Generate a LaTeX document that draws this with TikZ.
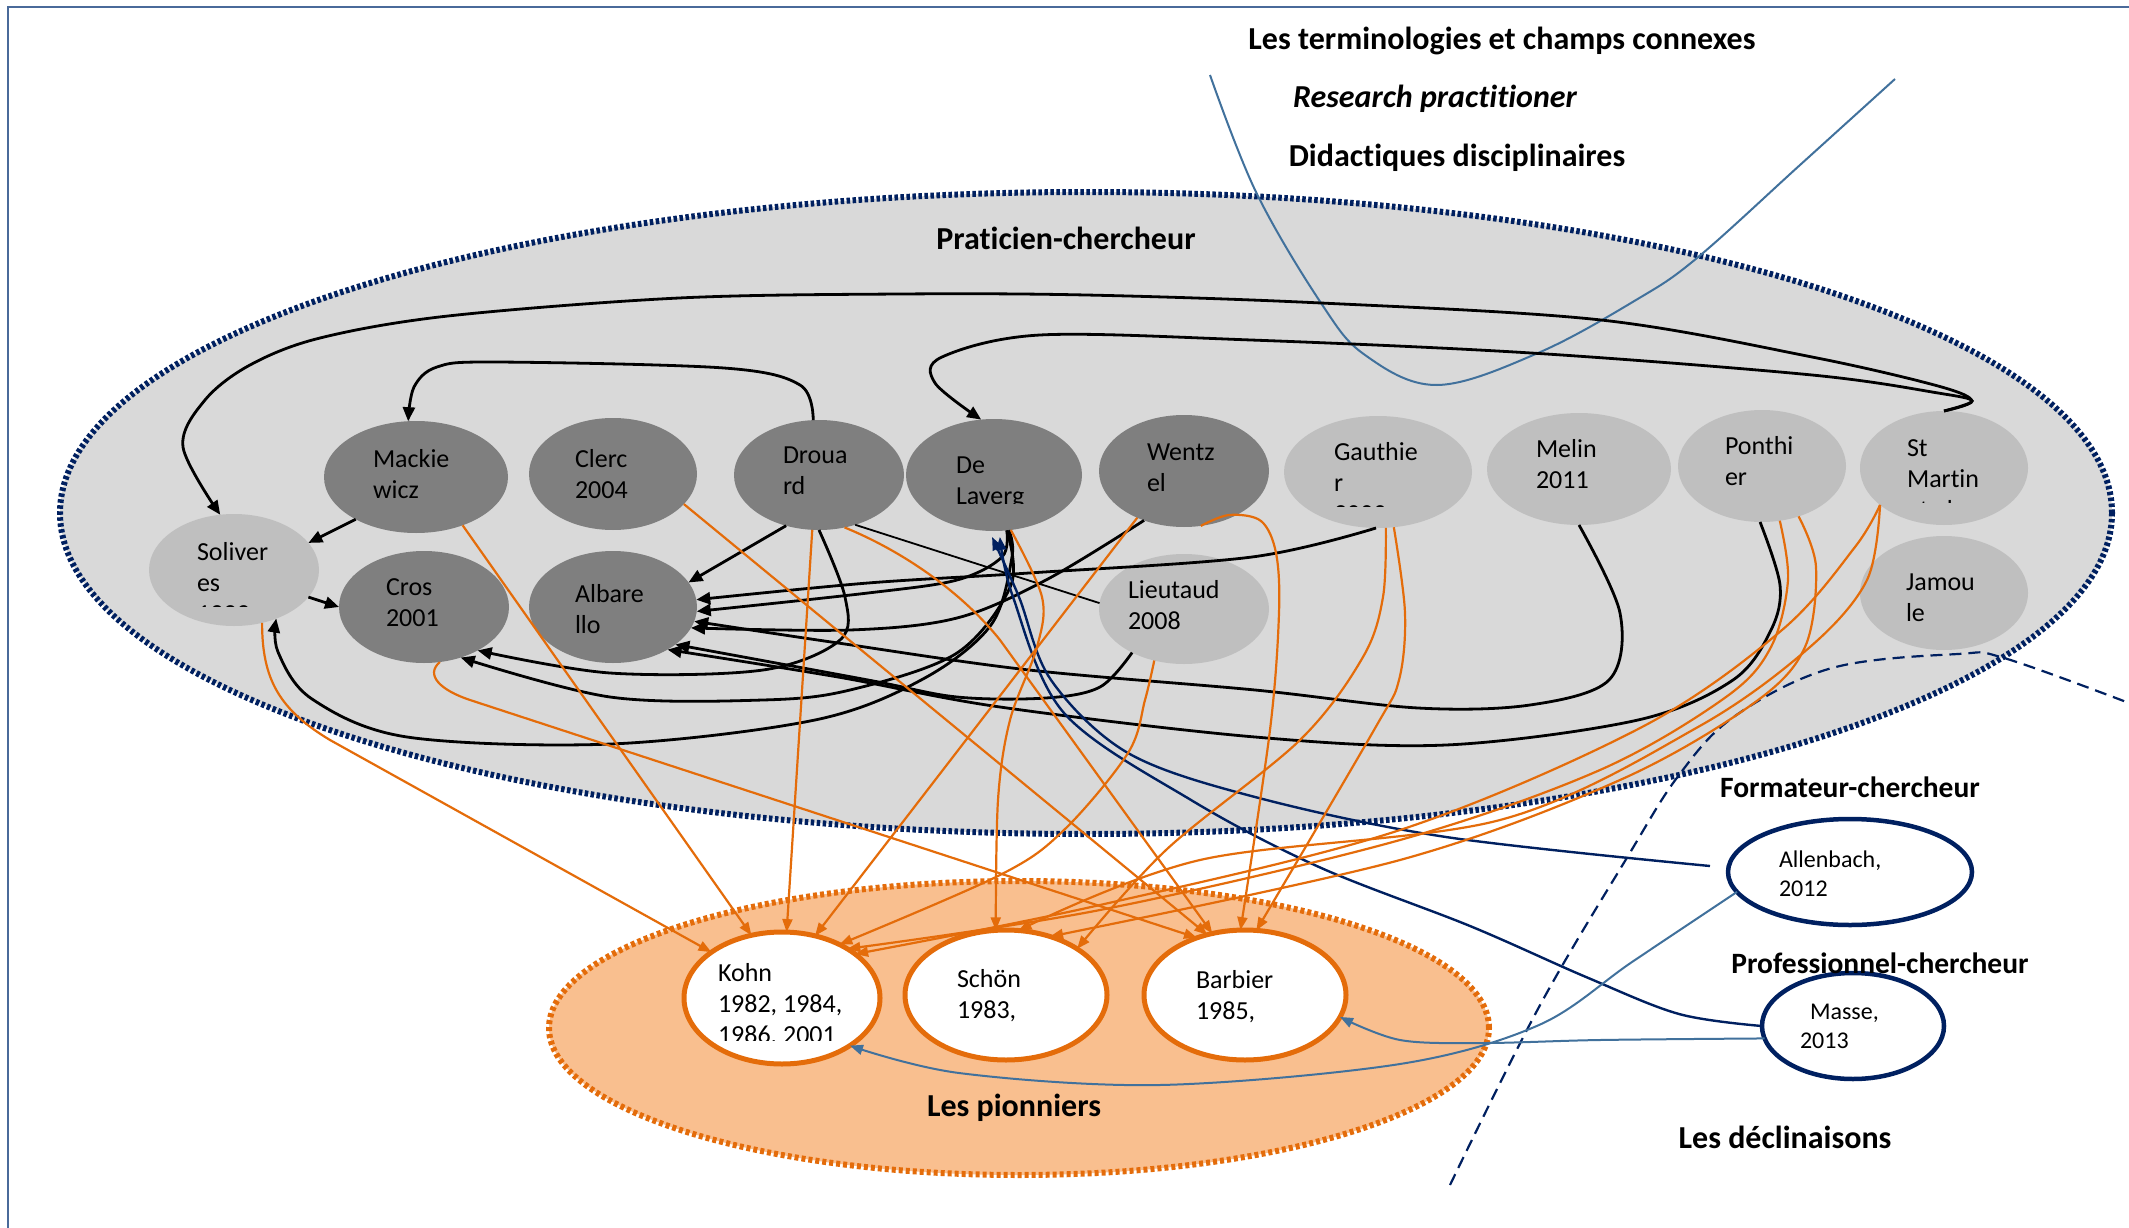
\documentclass[tikz,border=0pt]{standalone}
\usepackage{fontspec}
\setmainfont{Carlito}[Ligatures={NoCommon}]
\usetikzlibrary{shapes.geometric,arrows.meta,calc}
\definecolor{grayfill}{HTML}{D9D9D9}
\definecolor{darknode}{HTML}{7F7F7F}
\definecolor{lightnode}{HTML}{BFBFBF}
\definecolor{navy}{HTML}{002060}
\definecolor{steel}{HTML}{41719C}
\definecolor{orng}{HTML}{E46C0A}
\definecolor{peach}{HTML}{F9BF8F}
\definecolor{framecol}{HTML}{4A6A9A}
\newcommand\twol[2]{\vtop{\hbox{#1}\hbox{#2}}}
\newcommand\threel[3]{\vtop{\hbox{#1}\hbox{#2}\hbox{#3}}}
\begin{document}
\begin{tikzpicture}[x=1pt,y=-1pt,
  every node/.style={inner sep=0pt,outer sep=0pt},
  el/.style 2 args={ellipse,minimum width=#1,minimum height=#2},
  dk/.style={fill=darknode},
  lt/.style={fill=lightnode},
  pio/.style={fill=white,draw=orng,line width=5pt},
  nv/.style={fill=white,draw=navy,line width=4.5pt},
  lbl/.style={anchor=base west,font=\fontsize{26}{31}\selectfont},
  slbl/.style={anchor=base west,font=\fontsize{24}{29}\selectfont},
  ttl/.style={font=\bfseries\fontsize{32}{38}\selectfont},
  ttlb/.style={font=\bfseries\fontsize{29.5}{35}\selectfont},
  blk/.style={black,line width=2.8pt,-{Triangle[length=14pt,width=12pt]}},
  org/.style={orng,line width=2.2pt,-{Triangle[length=13pt,width=10pt]}},
  nvy/.style={navy,line width=2.4pt,-{Triangle[length=13pt,width=10pt]}},
  stl/.style={steel,line width=2pt,-{Triangle[length=13pt,width=10pt]}},
  sm/.style={smooth,tension=0.55}]
\useasboundingbox (0,0) rectangle (2129,1228);
\fill[white] (0,0) rectangle (2129,1228);
% frame
\draw[framecol,line width=2.5pt] (8,1228) -- (8,7) -- (2129,7);
% big ellipses
\node[el={2052}{642},fill=grayfill,draw=navy,line width=6pt,dash pattern=on 3.5pt off 2.5pt] (prat) at (1086,513) {};
\node[el={940}{294},fill=peach,draw=orng,line width=6pt,dash pattern=on 4pt off 3pt] (pion) at (1019,1028) {};
% terminology curve
\draw[steel,line width=2pt] plot[smooth,tension=0.6] coordinates {(1210,75) (1256,192) (1321,303) (1365,355) (1437,385) (1538,353) (1636,300) (1697,258) (1800,165) (1895,79)};
% declinaisons dashed line
\draw[navy,line width=2.2pt,dash pattern=on 12pt off 7pt] plot[smooth,tension=0.6] coordinates {(1450,1185) (1539,1007) (1628,856) (1679,775) (1735,716) (1832,668) (1958,654) (2004,658) (2129,703)};
% nodes
\node[el={170}{112},lt] (sol) at (234,570) {};
\node[el={184}{112},dk] (mac) at (416,477) {};
\node[el={168}{112},dk] (cle) at (613,474) {};
\node[el={170}{110},dk] (dro) at (819,475) {};
\node[el={176}{112},dk] (del) at (994,475) {};
\node[el={170}{112},dk] (wen) at (1184,471) {};
\node[el={188}{112},lt] (gau) at (1378,472) {};
\node[el={184}{112},lt] (mel) at (1579,469) {};
\node[el={168}{112},lt] (pon) at (1762,466) {};
\node[el={168}{114},lt] (stm) at (1944,468) {};
\node[el={168}{114},lt] (jam) at (1944,593) {};
\node[el={170}{112},dk] (cro) at (424,607) {};
\node[el={168}{112},dk] (alb) at (613,607) {};
\node[el={170}{110},lt] (lie) at (1184,609) {};
\node[el={196}{132},pio] (kohn) at (782,998) {};
\node[el={202}{130},pio] (schon) at (1006,995) {};
\node[el={202}{130},pio] (barb) at (1245,995) {};
\node[el={244}{106},nv] (allen) at (1850,872) {};
\node[el={182}{106},nv] (masse) at (1853,1026) {};
% node texts
\begin{scope}\clip (150,520) rectangle (320,606.5);
\node[lbl] (solT) at (197,560) {\threel{Soliver}{es}{1999}};\end{scope}
\node[lbl] (macT) at (373,467) {\twol{Mackie}{wicz}};
\node[lbl] (cleT) at (575,467) {\twol{Clerc}{2004}};
\node[lbl] (droT) at (783,463) {\twol{Droua}{rd}};
\begin{scope}\clip (907,420) rectangle (1082,503);
\node[lbl] (delT) at (956,473) {\twol{De}{Laverg}};\end{scope}
\node[lbl] (wenT) at (1147,460) {\twol{Wentz}{el}};
\begin{scope}\clip (1284,420) rectangle (1472,506.5);
\node[lbl] (gauT) at (1334,460) {\threel{Gauthie}{r}{2000}};\end{scope}
\node[lbl] (melT) at (1536,457) {\twol{Melin}{2011}};
\node[lbl] (ponT) at (1725,454) {\twol{Ponthi}{er}};
\begin{scope}\clip (1860,415) rectangle (2028,502);
\node[lbl] (stmT) at (1907,456) {\threel{St}{Martin}{et al.}};\end{scope}
\node[lbl] (jamT) at (1906,590) {\twol{Jamou}{le}};
\node[lbl] (croT) at (386,595) {\twol{Cros}{2001}};
\node[lbl] (albT) at (575,602) {\twol{Albare}{llo}};
\node[lbl] (lieT) at (1128,598) {\twol{Lieutaud}{2008}};
\begin{scope}\clip (690,940) rectangle (880,1040);
\node[lbl] (kohnT) at (718,981) {\threel{Kohn}{1982, 1984,}{1986, 2001}};\end{scope}
\node[lbl] (schonT) at (957,987) {\twol{Schön}{1983,}};
\node[lbl] (barbT) at (1196,988) {\twol{Barbier}{1985,}};
\node[slbl] (allenT) at (1779,867) {\twol{Allenbach,}{2012}};
\node[slbl] (masseT) at (1800,1019) {\twol{\hspace{10pt}Masse,}{2013}};
% titles
\node[ttl] (t1) at (1502,41) {Les terminologies et champs connexes};
\node[ttl,font=\bfseries\itshape\fontsize{32}{38}\selectfont] (t2) at (1435,99) {Research practitioner};
\node[ttl] (t3) at (1457,158) {Didactiques disciplinaires};
\node[ttl] (t4) at (1066,238) {Praticien-chercheur};
\node[ttl] (t5) at (1014,1108) {Les pionniers};
\node[ttlb] (t6) at (1850,787) {Formateur-chercheur};
\node[ttlb] (t7) at (1880,963) {Professionnel-chercheur};
\node[ttl] (t8) at (1785,1137) {Les déclinaisons};
% black connectors
\draw[blk] plot[sm] coordinates {(stm.north) (1972,401) (1938,386) (1812,357) (1601,320) (1321,303) (1086,295) (900,294) (679,298) (448,316) (320,338) (250,365) (205,400) (183,447) (sol.104)};
\draw[blk] plot[sm] coordinates {(stm.north) (1972,401) (1938,393) (1812,375) (1531,353) (1251,340) (1040,335) (942,357) (935,383) (del.103)};
\draw[blk] plot[sm] coordinates {(dro.96) (800,385) (724,368) (494,362) (437,367) (414,387) (mac.98)};
\draw[blk] (mac.215) -- (sol.20);
\draw[blk] (sol.-20) -- (cro.180);
\draw[blk] (dro.237) -- (alb.18);
\draw[blk] plot[sm] coordinates {(gau.268) (1252,557) (1029,573) (868,583) (alb.5)};
\draw[blk] plot[sm] coordinates {(del.283) (1002,557) (957,580) (868,593) (alb.-3)};
\draw[blk] plot[sm] coordinates {(wen.231) (1046,580) (957,618) (850,630) (alb.-15)};
\draw[blk] plot[sm] coordinates {(mel.south) (1620,613) (1609,680) (1530,705) (1418,708) (1255,690) (1029,670) (838,643) (alb.-10)};
\draw[blk] plot[sm] coordinates {(lie.220) (1100,687) (1046,698) (957,697) (868,680) (alb.-31)};
\draw[blk] plot[sm] coordinates {(pon.268) (1780,585) (1771,630) (1733,680) (1638,720) (1446,745) (1255,737) (1000,707) (838,677) (alb.-38)};
\draw[blk] plot[sm] coordinates {(dro.south) (845,597) (840,640) (763,670) (610,673) (cro.-39)};
\draw[blk] plot[sm] coordinates {(del.283) (1011,585) (957,653) (850,690) (763,700) (610,697) (cro.-54)};
\draw[blk] plot[sm] coordinates {(del.285) (1012,557) (991,625) (923,679) (815,720) (611,744) (407,737) (312,699) (278,652) (sol.-49)};
\draw[black,line width=1.8pt] (dro.-54) -- (lie.176);
% navy connectors
\draw[nvy] plot[sm] coordinates {([xshift=-18pt,yshift=6pt]allen.west) (1446,837) (1255,797) (1128,753) (1051,680) (1019,597) ([yshift=-6pt]del.268)};
\draw[nvy] plot[sm] coordinates {(masse.west) (1679,1014) (1586,977) (1470,926) (1319,867) (1191,800) (1064,713) (1013,597) ([yshift=-6pt]del.276)};
\draw[stl] plot[sm] coordinates {(masse.188) (1600,1040) (1484,1043) (1400,1040) (barb.-13)};
\draw[stl] plot[sm] coordinates {(allen.190) (1632,962) (1539,1025) (1400,1064) (1160,1085) (959,1073) (kohn.-35)};
% orange connectors
\draw[org] (sol.298) .. controls (262,680) and (280,710) .. (330,740) -- (kohn.147);
\draw[org] (mac.-46) -- (kohn.116);
\draw[org] (cle.-23) -- (barb.122);
\draw[org] (cro.-74) .. controls (425,675) and (440,690) .. (470,700) -- (barb.130);
\draw[org] (dro.263) -- (kohn.86);
\draw[org] (dro.-64) .. controls (900,550) and (960,590) .. (1000,640) -- (barb.118);
\draw[org] plot[sm] coordinates {(del.-73) (1042,597) (1037,647) (1010,720) (998,800) (schon.99)};
\draw[org] (wen.225) -- (kohn.62);
\draw[org] plot[sm] coordinates {(wen.-73) (1229,515) (1261,521) (1276,553) (1279,613) (1270,730) (barb.94)};
\draw[org] plot[sm] coordinates {(gau.-82) (1383,597) (1363,657) (1300,740) (1166,850) (schon.33)};
\draw[org] plot[sm] coordinates {(gau.-74) (1405,613) (1399,680) (1374,730) (barb.80)};
\draw[org] plot[sm] coordinates {(lie.240) (1145,700) (1128,753) (1064,830) (1000,875) (kohn.43)};
\draw[org] plot[sm] coordinates {(pon.-72) (1788,580) (1771,647) (1726,697) (1600,770) (1400,840) (1100,910) (kohn.37)};
\draw[org] plot[sm] coordinates {(pon.-54) (1816,567) (1805,647) (1754,703) (1620,780) (1400,860) (schon.53)};
\draw[org] plot[sm] coordinates {(stm.210) (1855,547) (1782,630) (1642,727) (1400,830) (1100,905) (kohn.31)};
\draw[org] plot[sm] coordinates {(stm.210) (1867,580) (1810,647) (1698,727) (1500,820) (1200,860) (schon.79)};
\end{tikzpicture}
\end{document}
